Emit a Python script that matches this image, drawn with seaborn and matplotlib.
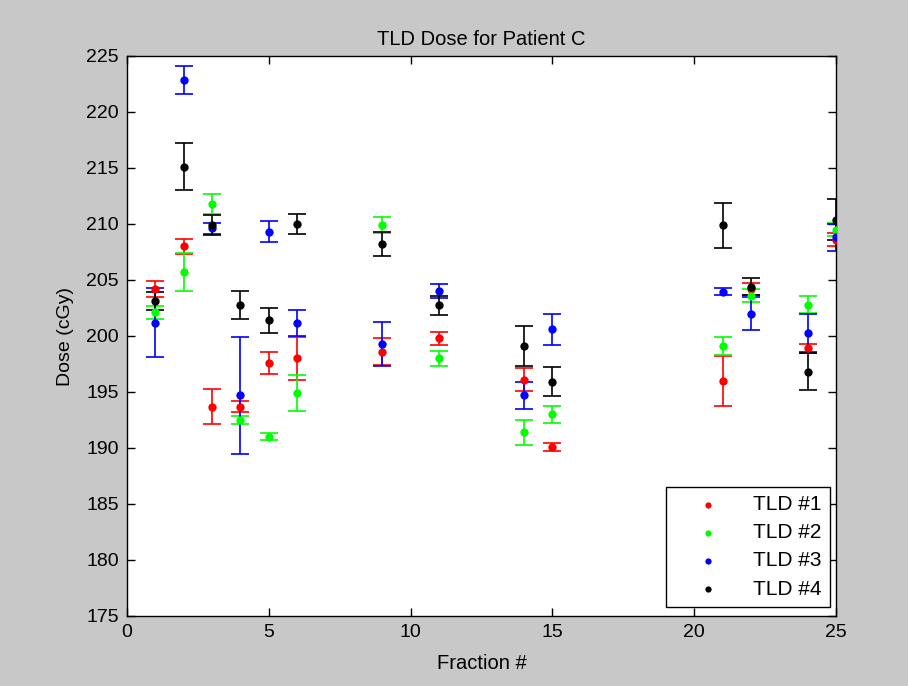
import matplotlib
matplotlib.use("Agg")
import matplotlib.pyplot as plt
import numpy as np
import pandas as pd
import seaborn as sns

# Fraction numbers where TLDs were read
fractions = [1, 2, 3, 4, 5, 6, 9, 11, 14, 15, 21, 22, 24, 25]

# Dose readings (cGy) and error bar half-widths per TLD
tld1 = [204.2, 208.0, 193.7, 193.7, 197.6, 198.0, 198.6, 199.8, 196.1, 190.1, 196.0, 204.2, 198.9, 208.6]
err1 = [0.7, 0.7, 1.6, 0.5, 0.95, 1.9, 1.2, 0.6, 1.0, 0.35, 2.25, 0.5, 0.4, 0.6]
tld2 = [202.1, 205.7, 211.8, 192.5, 191.0, 194.9, 209.9, 198.0, 191.4, 193.0, 199.1, 203.6, 202.8, 209.5]
err2 = [0.6, 1.7, 0.9, 0.4, 0.3, 1.6, 0.7, 0.7, 1.1, 0.75, 0.8, 0.6, 0.75, 0.6]
tld3 = [201.2, 222.9, 209.6, 194.7, 209.3, 201.15, 199.3, 204.0, 194.7, 200.6, 203.95, 202.0, 200.3, 208.8]
err3 = [3.1, 1.25, 0.5, 5.2, 0.95, 1.15, 1.95, 0.6, 1.2, 1.4, 0.3, 1.5, 1.7, 1.2]
tld4 = [203.1, 215.1, 209.9, 202.8, 201.4, 210.0, 208.2, 202.75, 199.1, 195.9, 209.9, 204.4, 196.8, 210.4]
err4 = [0.8, 2.1, 0.9, 1.25, 1.1, 0.9, 1.05, 0.85, 1.8, 1.3, 2.0, 0.75, 1.65, 1.8]

labels = ["TLD #1", "TLD #2", "TLD #3", "TLD #4"]
colors = ["#ff0000", "#00ff00", "#0000ff", "#000000"]

frames = []
for label, dose, err in zip(labels, [tld1, tld2, tld3, tld4], [err1, err2, err3, err4]):
    frames.append(pd.DataFrame({"Fraction": fractions, "Dose": dose, "Err": err, "TLD": label}))
df = pd.concat(frames, ignore_index=True)

sns.set_style("white")
plt.rcParams["font.family"] = ["Liberation Sans", "DejaVu Sans"]
plt.rcParams["text.color"] = "black"
plt.rcParams["axes.labelcolor"] = "black"

fig = plt.figure(figsize=(9.08, 6.86), dpi=100)
fig.patch.set_facecolor("#c8c8c8")
ax = fig.add_axes([127 / 908, 70 / 686, 709 / 908, 560 / 686])
ax.set_facecolor("white")

for label, color in zip(labels, colors):
    sub = df[df["TLD"] == label]
    ax.errorbar(sub["Fraction"], sub["Dose"], yerr=sub["Err"], fmt="none",
                ecolor=color, elinewidth=1.2, capsize=6.5, capthick=1.2, zorder=2)
    sns.scatterplot(data=sub, x="Fraction", y="Dose", color=color, s=36,
                    edgecolor=color, linewidth=0, label=label, ax=ax, zorder=3)

ax.set_xlim(0, 25)
ax.set_ylim(175, 225)
ax.set_xticks(np.arange(0, 26, 5))
ax.set_yticks(np.arange(175, 226, 5))
ax.tick_params(direction="in", length=6, width=1, labelsize=14, colors="black",
               top=True, right=True, bottom=True, left=True, pad=6)
for spine in ax.spines.values():
    spine.set_color("black")
    spine.set_linewidth(1)

ax.set_xlabel("Fraction #", fontsize=14.5, labelpad=9, color="black")
ax.set_ylabel("Dose (cGy)", fontsize=14, labelpad=9, color="black")
ax.set_title("TLD Dose for Patient C", fontsize=14.5, pad=8, color="black")

leg = ax.legend(loc="lower right", bbox_to_anchor=(1.0 - 6 / 709, 9 / 560), fontsize=15,
                frameon=True, fancybox=False, borderaxespad=0.0,
                handlelength=3.3, handletextpad=0.5, markerscale=0.75,
                borderpad=0.4, labelspacing=0.44)
leg.get_frame().set_edgecolor("black")
leg.get_frame().set_linewidth(1)
leg.get_frame().set_alpha(1)
for text in leg.get_texts():
    text.set_color("black")

fig.savefig("out.png", dpi=100, facecolor=fig.get_facecolor())
